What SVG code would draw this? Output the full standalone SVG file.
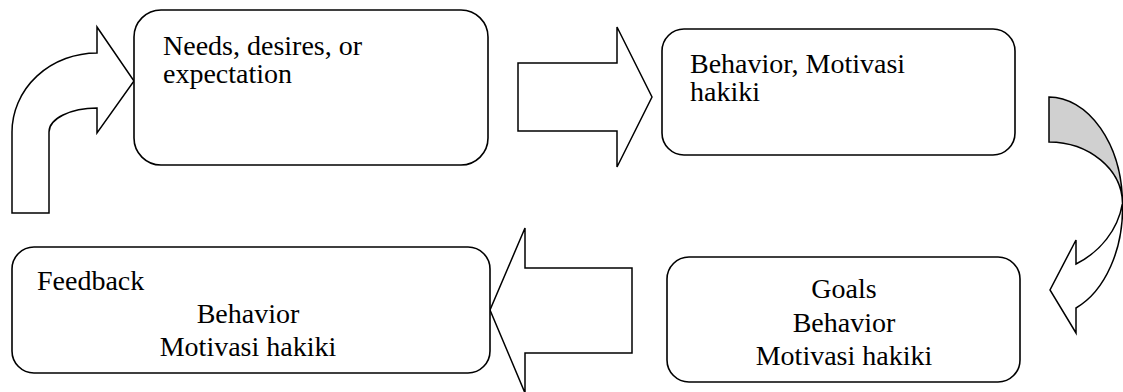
<svg xmlns="http://www.w3.org/2000/svg" width="1123" height="392" viewBox="0 0 1123 392">
<style>
.box{fill:#fff;stroke:#000;stroke-width:1.6}
.arr{fill:#fff;stroke:#000;stroke-width:1.5;stroke-linejoin:miter}
.gray{fill:#d0d0d0;stroke:#000;stroke-width:1.5}
.t{font-family:"Liberation Serif","Times New Roman",serif;font-size:28px;fill:#000}
.c{text-anchor:middle}
</style>
<rect width="1123" height="392" fill="#fff"/>
<g id="connectors">
<path class="arr" d="M12,213 L12,132 A85,79 0 0 1 97,53 L97,27 L134,81 L97,133 L97,108 A48,24 0 0 0 49,132 L49,213 Z"/>
<path class="arr" d="M518,63 L617,63 L617,27 L652,97 L617,167 L617,131 L518,131 Z"/>
<path class="gray" d="M1049,97 A74,108 0 0 1 1122.5,203 A74,62 0 0 0 1049,142 Z"/>
<path class="arr" d="M1122.5,203 A74,108 0 0 1 1076,308 L1076,333 L1050,290 L1076,240 L1076,264 C1100,252 1118,230 1122.5,203 Z"/>
<path class="arr" d="M632,268 L525,268 L525,228 L490,310 L525,393 L525,353 L632,353 Z"/>
</g>
<g id="node-needs">
<rect class="box" x="134" y="10" width="354" height="155" rx="27" ry="27"/>
<text class="t" x="163" y="55">Needs, desires, or</text>
<text class="t" x="163" y="83">expectation</text>
</g>
<g id="node-behavior">
<rect class="box" x="662" y="29" width="353" height="126" rx="22" ry="22"/>
<text class="t" x="690" y="73">Behavior, Motivasi</text>
<text class="t" x="690" y="101">hakiki</text>
</g>
<g id="node-goals">
<rect class="box" x="667" y="257" width="353" height="125" rx="22" ry="22"/>
<text class="t c" x="844" y="298">Goals</text>
<text class="t c" x="844" y="332">Behavior</text>
<text class="t c" x="844" y="365">Motivasi hakiki</text>
</g>
<g id="node-feedback">
<rect class="box" x="12" y="247" width="478" height="126" rx="22" ry="22"/>
<text class="t" x="37" y="290">Feedback</text>
<text class="t c" x="248" y="323">Behavior</text>
<text class="t c" x="248" y="356">Motivasi hakiki</text>
</g>
</svg>
